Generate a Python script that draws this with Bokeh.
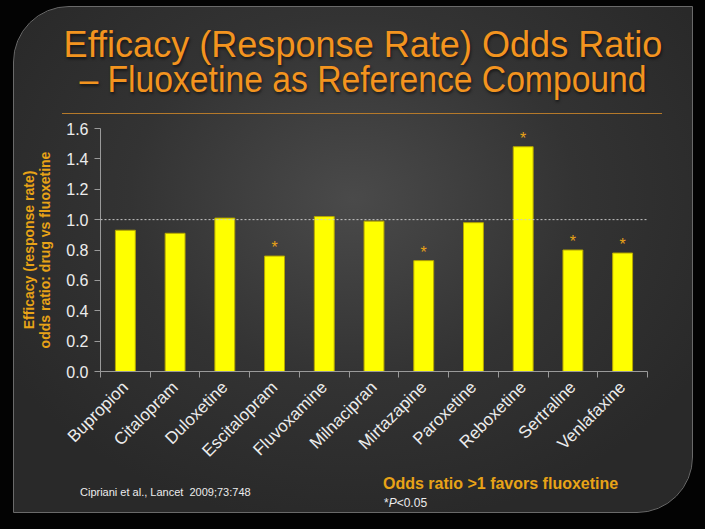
import math
from bokeh.plotting import figure
from bokeh.layouts import column
from bokeh.models import (Range1d, FixedTicker, Span, ColumnDataSource, Div)
from bokeh.embed import file_html
from bokeh.resources import INLINE

title_lines = ["Efficacy (Response Rate) Odds Ratio", "\u2013 Fluoxetine as Reference Compound"]
y_title = "Efficacy (response rate)\nodds ratio: drug vs fluoxetine"
drugs = ["Bupropion", "Citalopram", "Duloxetine", "Escitalopram", "Fluvoxamine",
         "Milnacipran", "Mirtazapine", "Paroxetine", "Reboxetine", "Sertraline", "Venlafaxine"]
odds_ratio = [0.93, 0.91, 1.01, 0.76, 1.02, 0.99, 0.73, 0.98, 1.48, 0.80, 0.78]
significant = [False, False, False, True, False, False, True, False, True, True, True]
y_ticks = [0.0, 0.2, 0.4, 0.6, 0.8, 1.0, 1.2, 1.4, 1.6]
reference_line = 1.0

# panel geometry (window px)
PL, PT, PR, PB = 14, 7, 692, 512
PW, PH = PR - PL, PB - PT
TITLE_H = 108
FOOT_H = 42
FIG_H = PH - TITLE_H - FOOT_H
# frame in window px
FL, FR, FT, FB = 100, 647, 128, 373

orange = "#f3941f"
label_orange = "#e8a317"

p = figure(width=PW, height=FIG_H, output_backend="svg", toolbar_location=None,
           x_range=Range1d(0, len(drugs)), y_range=Range1d(0, 1.6),
           min_border_left=FL - PL, min_border_right=PR - FR,
           min_border_top=FT - PT - TITLE_H,
           min_border_bottom=FIG_H - (FB - PT - TITLE_H), margin=0)
p.border_fill_color = None
p.background_fill_color = None
p.outline_line_color = None
p.grid.visible = False

centers = [i + 0.5 for i in range(len(drugs))]
src = ColumnDataSource(dict(x=centers, top=odds_ratio))
p.vbar(x="x", top="top", bottom=0, width=0.4, source=src,
       fill_color="#ffff00", line_color="#b5a600", line_width=1)

star_x = [c for c, s in zip(centers, significant) if s]
star_y = [v for v, s in zip(odds_ratio, significant) if s]
p.text(x=star_x, y=star_y, text=["*"] * len(star_x), text_align="center",
       text_baseline="bottom", text_color=label_orange, text_font_size="16px",
       y_offset=0)

p.add_layout(Span(location=reference_line, dimension="width", line_color="#c8c8c8",
                  line_dash="2 2", line_width=1))

xa = p.xaxis[0]
xa.ticker = FixedTicker(ticks=centers, minor_ticks=list(range(len(drugs) + 1)))
xa.major_label_overrides = {c: d for c, d in zip(centers, drugs)}
xa.major_tick_line_color = None
xa.minor_tick_line_color = "#9a9a9a"
xa.minor_tick_out = 6
xa.minor_tick_in = 0
xa.axis_line_color = "#9a9a9a"
xa.major_label_orientation = math.pi / 4
xa.major_label_text_color = "#ececec"
xa.major_label_text_font = "Liberation Sans"
xa.major_label_text_font_size = "17px"
xa.major_label_standoff = 7

ya = p.yaxis[0]
ya.ticker = FixedTicker(ticks=y_ticks)
ya.major_label_overrides = {t: f"{t:.1f}" for t in y_ticks}
ya.axis_line_color = "#9a9a9a"
ya.major_tick_line_color = "#9a9a9a"
ya.major_tick_out = 6
ya.major_tick_in = 0
ya.minor_tick_line_color = None
ya.major_label_text_color = "#ececec"
ya.major_label_text_font = "Liberation Sans"
ya.major_label_text_font_size = "16px"
ya.major_label_standoff = 6
ya.axis_label = y_title
ya.axis_label_text_color = label_orange
ya.axis_label_text_font = "Liberation Sans"
ya.axis_label_text_font_style = "bold"
ya.axis_label_text_font_size = "14px"
ya.axis_label_standoff = 10
ya.axis_label_text_line_height = 1.02

title_style = ("position:absolute;left:10px;width:%dpx;text-align:center;"
               "font-family:'Liberation Sans',sans-serif;"
               "font-size:37px;line-height:34px;height:34px;color:%s;white-space:nowrap;"
               "text-shadow:1px 2px 3px rgba(0,0,0,0.55);") % (PW, orange)
title_html = (
    '<div style="position:relative;width:%dpx;height:%dpx;">' % (PW, TITLE_H)
    + '<div style="%stop:%dpx;transform:scaleX(0.975);">%s</div>' % (title_style, 45 - PT - 17, title_lines[0])
    + '<div style="%stop:%dpx;transform:scaleX(0.91);">%s</div>' % (title_style, 80 - PT - 17, title_lines[1])
    + '<div style="position:absolute;left:%dpx;top:%dpx;width:%dpx;height:0;'
      'border-top:1.5px solid #b5792a;"></div>' % (62 - PL, 113 - PT, 600)
    + '</div>'
)
title_div = Div(text=title_html, width=PW, height=TITLE_H, margin=0)

foot_top = PT + TITLE_H + FIG_H
foot_html = (
    '<div style="position:relative;width:%dpx;height:%dpx;font-family:\'Liberation Sans\',sans-serif;">' % (PW, FOOT_H)
    + '<div style="position:absolute;left:%dpx;top:%dpx;color:%s;font-weight:bold;font-size:16px;'
      'line-height:18px;white-space:nowrap;">Odds ratio &gt;1 favors fluoxetine</div>'
      % (383 - PL, 484 - foot_top - 9, label_orange)
    + '<div style="position:absolute;left:%dpx;top:%dpx;color:#ececec;font-size:11px;'
      'line-height:13px;white-space:nowrap;">Cipriani et al., Lancet&nbsp; 2009;73:748</div>'
      % (80 - PL, 492 - foot_top - 6)
    + '<div style="position:absolute;left:%dpx;top:%dpx;color:#ececec;font-size:12px;'
      'line-height:14px;white-space:nowrap;">*<i>P</i>&lt;0.05</div>'
      % (384 - PL, 503 - foot_top - 7)
    + '</div>'
)
foot_div = Div(text=foot_html, width=PW, height=FOOT_H, margin=0)

panel = column(title_div, p, foot_div, spacing=0, width=PW, height=PH,
               margin=(PT, 705 - PR, 529 - PB, PL),
               styles={"background": "radial-gradient(ellipse 60% 65% at 50% 38%, #4a4a4a 0%, #333333 55%, #292929 100%)",
                       "border-radius": "55px 0 55px 0",
                       "outline": "1.5px solid #6a6a6a"})
root = column(panel, width=705, height=529, spacing=0, margin=0,
              styles={"background-color": "#030303"})

open("out.html", "w").write(file_html(root, INLINE))
